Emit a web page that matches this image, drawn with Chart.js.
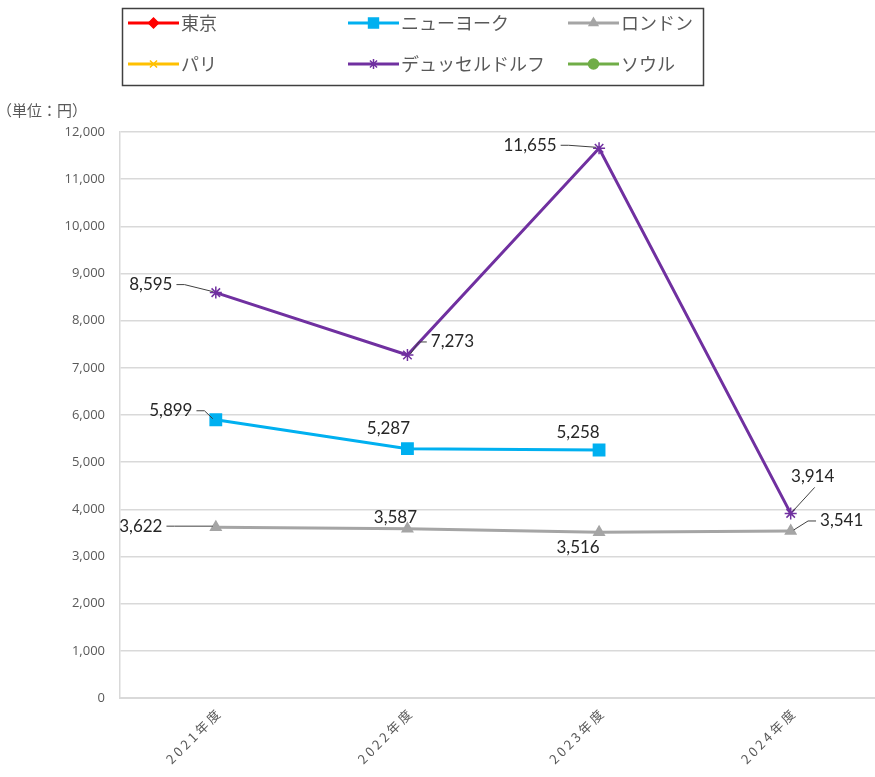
<!DOCTYPE html>
<html lang="ja">
<head>
<meta charset="utf-8">
<script src="https://cdn.jsdelivr.net/npm/chart.js@4.4.1/dist/chart.umd.min.js"></script>
<style>
  html, body { margin: 0; padding: 0; background: #fff; overflow: hidden; }
  #wrap { position: relative; width: 896px; height: 777px; }
</style>
</head>
<body>
<div id="wrap"><canvas id="chart" width="896" height="777"></canvas></div>
<script>
// 都市別の価格推移（単位：円）
const YEARS = ['2021年度', '2022年度', '2023年度', '2024年度'];
const TOKYO = [null, null, null, null];
const NEW_YORK = [5899, 5287, 5258, null];
const LONDON = [3622, 3587, 3516, 3541];
const PARIS = [null, null, null, null];
const DUSSELDORF = [8595, 7273, 11655, 3914];
const SEOUL = [null, null, null, null];
const Y_TICKS = [0, 1000, 2000, 3000, 4000, 5000, 6000, 7000, 8000, 9000, 10000, 11000, 12000];

const JP_FONT = '"Noto Sans CJK JP", "Noto Sans", sans-serif';
const NUM_FONT = '"Open Sans", "Noto Sans", sans-serif';
const LABEL_FONT = 'Lato, "Open Sans", sans-serif';
const TEXT = '#595959';

// データラベルの配置（点からのずれ）と引き出し線の有無
// [系列, 要素, dx, dy, 引き出し線]
const LABEL_POS = [
  [4, 0, -65, -8, true],
  [4, 1, 45, -13, true],
  [4, 2, -69, -3, true],
  [4, 3, 22, -37, true],
  [1, 0, -45, -9, true],
  [1, 1, -19, -20, false],
  [1, 2, -21, -17, false],
  [2, 0, -75, -1, true],
  [2, 1, -12, -11, false],
  [2, 2, -21, 15, false],
  [2, 3, 51, -10, true],
];

const series = (label, data, color, pointStyle, radius) => ({
  label, data, pointStyle,
  borderColor: color,
  backgroundColor: color,
  borderWidth: 3,
  pointRadius: radius,
  pointBorderColor: color,
  pointBackgroundColor: color,
  pointBorderWidth: 1.5,
  spanGaps: false,
});

const datasets = [
  series('東京', TOKYO, '#FF0000', 'rectRot', 5),
  series('ニューヨーク', NEW_YORK, '#00B0F0', 'rect', 8),
  series('ロンドン', LONDON, '#A5A5A5', 'triangle', 6),
  series('パリ', PARIS, '#FFC000', 'crossRot', 6),
  series('デュッセルドルフ', DUSSELDORF, '#7030A0', 'star', 6),
  series('ソウル', SEOUL, '#70AD47', 'circle', 5),
];

const fmt = (v) => v.toLocaleString('en-US');

// 凡例（枠付き、3列×2行）
const legendBox = {
  id: 'legendBox',
  afterDraw(chart) {
    const { ctx } = chart;
    ctx.save();
    ctx.strokeStyle = '#404040';
    ctx.lineWidth = 1.5;
    ctx.strokeRect(122.5, 8.5, 581, 77);
    const cols = [128, 348, 568];
    const rows = [23, 64];
    datasets.forEach((ds, i) => {
      const x = cols[i % 3];
      const y = rows[Math.floor(i / 3)];
      ctx.strokeStyle = ds.borderColor;
      ctx.fillStyle = ds.borderColor;
      ctx.lineWidth = 3;
      ctx.beginPath();
      ctx.moveTo(x, y);
      ctx.lineTo(x + 51, y);
      ctx.stroke();
      ctx.lineWidth = 1.5;
      const style = ds.pointStyle;
      Chart.helpers.drawPoint(ctx, {
        pointStyle: style,
        radius: style === 'rect' ? 7 : 5,
        borderWidth: 1.5,
        rotation: 0,
      }, x + 25.5, y);
      ctx.fillStyle = TEXT;
      ctx.font = '18px ' + JP_FONT;
      ctx.textBaseline = 'middle';
      ctx.textAlign = 'left';
      ctx.fillText(ds.label, x + 53, y);
    });
    ctx.restore();
  },
};

// 単位表記と回転した年度ラベル
const axisText = {
  id: 'axisText',
  afterDraw(chart) {
    const { ctx } = chart;
    const xs = chart.scales.x;
    ctx.save();
    ctx.fillStyle = TEXT;
    ctx.font = '15px ' + JP_FONT;
    ctx.textBaseline = 'middle';
    ctx.fillText('（単位：円）', -3, 110);

    ctx.font = '13px ' + JP_FONT;
    ctx.letterSpacing = '3px';
    ctx.textAlign = 'right';
    YEARS.forEach((t, i) => {
      const px = xs.getPixelForValue(i);
      ctx.save();
      ctx.translate(px + 4, chart.chartArea.bottom + 12);
      ctx.rotate(-Math.PI / 4);
      ctx.fillText(t, 0, 0);
      ctx.restore();
    });
    ctx.restore();
  },
};

// 値ラベルと引き出し線
const valueLabels = {
  id: 'valueLabels',
  afterDatasetsDraw(chart) {
    const { ctx } = chart;
    ctx.save();
    ctx.font = '17px ' + LABEL_FONT;
    ctx.textAlign = 'center';
    ctx.textBaseline = 'middle';
    LABEL_POS.forEach(([d, i, dx, dy, leader]) => {
      const pt = chart.getDatasetMeta(d).data[i];
      const v = chart.data.datasets[d].data[i];
      const cx = pt.x + dx, cy = pt.y + dy;
      const txt = fmt(v);
      const w = ctx.measureText(txt).width;
      if (leader) {
        ctx.strokeStyle = '#404040';
        ctx.lineWidth = 1;
        ctx.beginPath();
        if (Math.abs(dy) > 25) {
          ctx.moveTo(cx + 2, cy + 11);
          ctx.lineTo(pt.x + 2, pt.y - 2);
        } else if (dx < 0) {
          const sx = cx + w / 2 + 4;
          ctx.moveTo(sx, cy);
          ctx.lineTo(sx + 8, cy);
          ctx.lineTo(pt.x - 3, pt.y - 1);
        } else {
          const sx = cx - w / 2 - 4;
          ctx.moveTo(sx, cy);
          ctx.lineTo(sx - 8, cy);
          ctx.lineTo(pt.x + 3, pt.y - 1);
        }
        ctx.stroke();
      }
      ctx.fillStyle = '#262626';
      ctx.fillText(txt, cx, cy);
    });
    ctx.restore();
  },
};

new Chart(document.getElementById('chart'), {
  type: 'line',
  data: { labels: YEARS, datasets },
  options: {
    responsive: false,
    animation: false,
    layout: { padding: { top: 132, right: 3, bottom: 0, left: 1 } },
    plugins: {
      legend: { display: false },
      tooltip: { enabled: false },
    },
    scales: {
      x: {
        offset: true,
        grid: { display: false, drawTicks: false },
        border: { color: '#D9D9D9', width: 2 },
        ticks: { display: false },
        afterFit: (s) => { s.height = 79; },
      },
      y: {
        min: 0,
        max: 12000,
        afterBuildTicks: (s) => { s.ticks = Y_TICKS.map(value => ({ value })); },
        grid: { color: '#D9D9D9', lineWidth: 1.5, drawTicks: false },
        border: { color: '#D9D9D9', width: 1.5 },
        ticks: {
          color: TEXT,
          padding: 15,
          font: { family: NUM_FONT, size: 13 },
          callback: (v) => fmt(v),
        },
        afterFit: (s) => { s.width = 119; },
      },
    },
  },
  plugins: [valueLabels, legendBox, axisText],
});
</script>
</body>
</html>
